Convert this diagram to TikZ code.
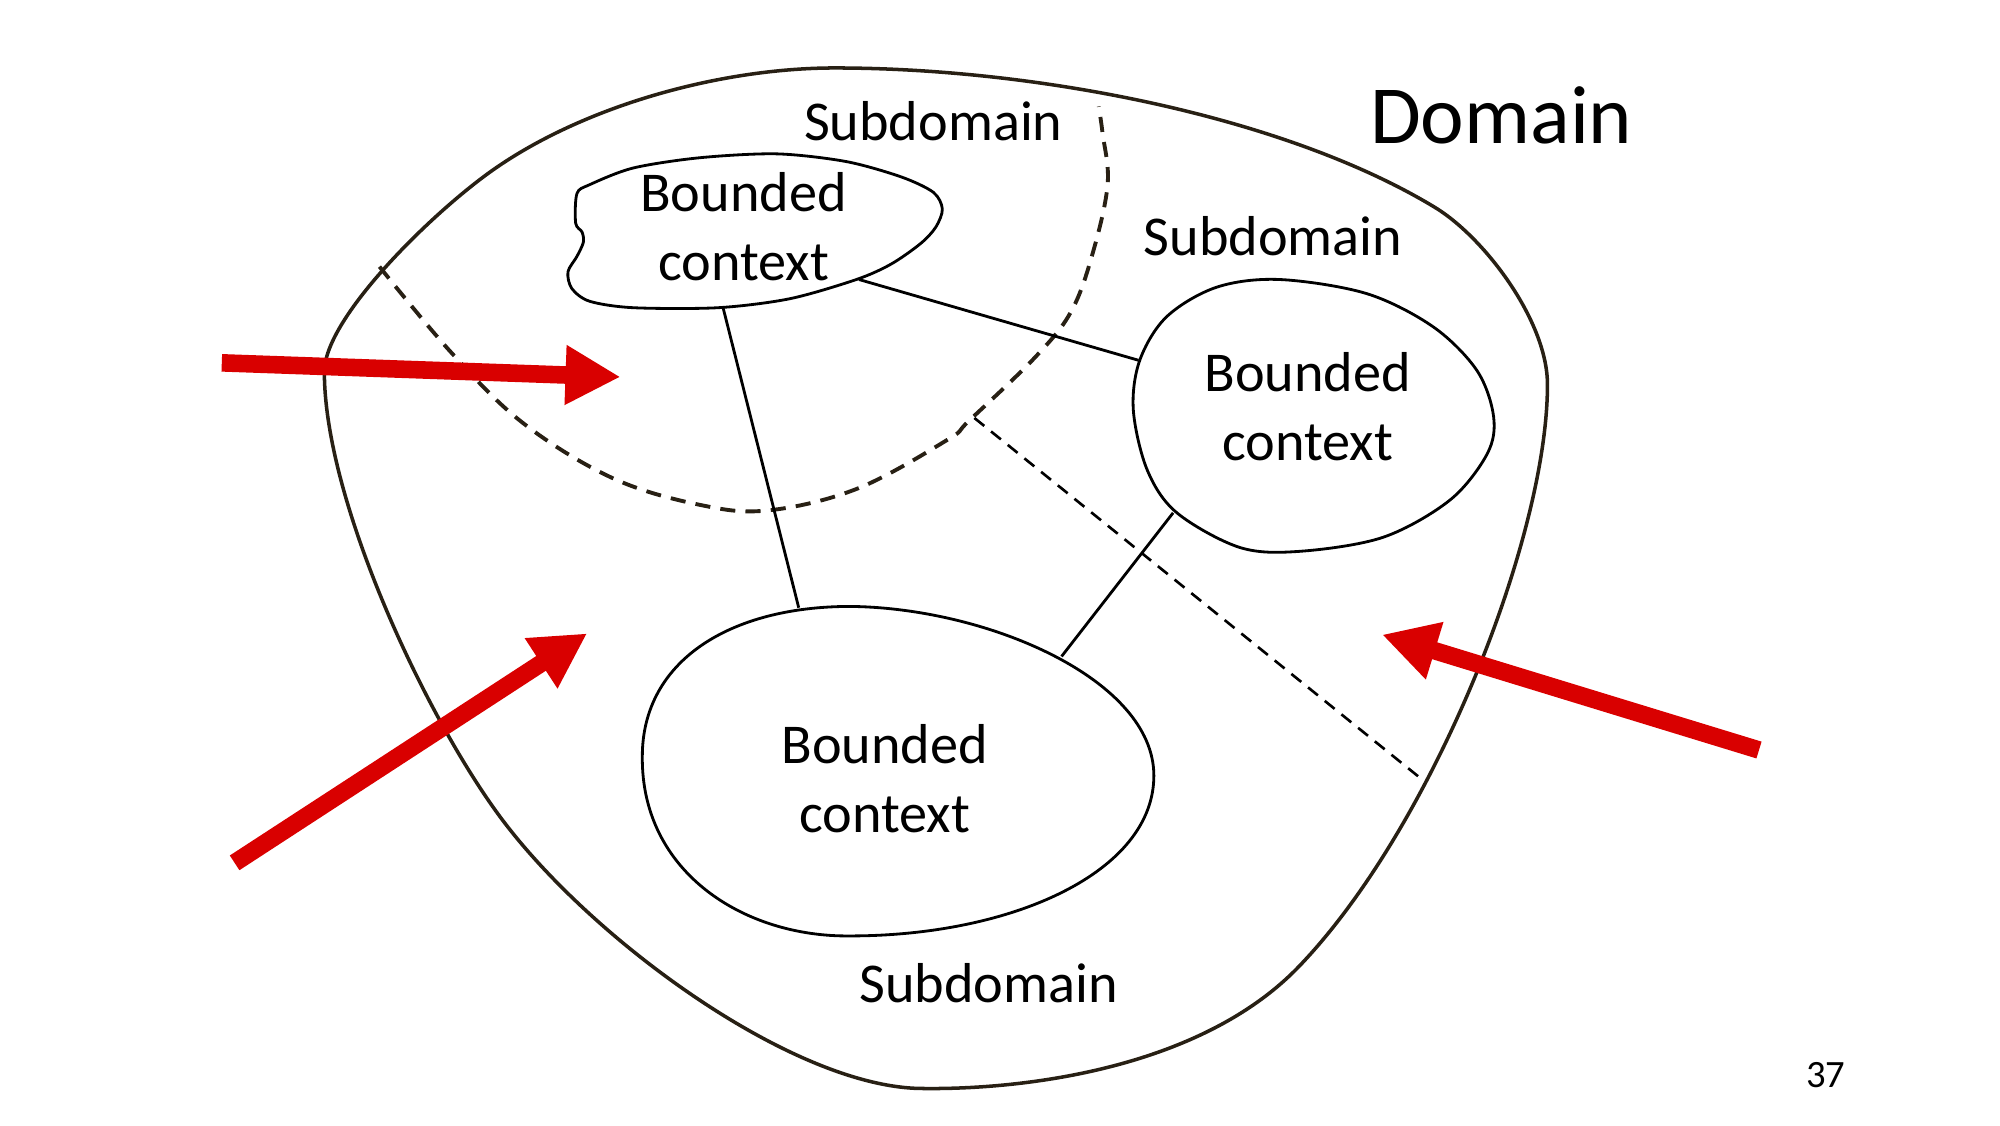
\documentclass[tikz,border=0pt]{standalone}
\usepackage{fontspec}
\setmainfont{Carlito}
\usetikzlibrary{arrows.meta}
\definecolor{edgebrown}{RGB}{40,32,20}
\definecolor{signalred}{RGB}{217,0,0}

\begin{document}
\begin{tikzpicture}[x=0.012821cm,y=-0.012821cm,
      every node/.style={font=\fontsize{16}{19.6}\selectfont,inner sep=0pt},
      context/.style={align=center},
      outline/.style={draw=edgebrown,line width=1pt},
      blob/.style={draw=black,line width=0.8pt},
      border/.style={draw=edgebrown,line width=1.1pt,dash pattern=on 4.3pt off 2.9pt},
      thinborder/.style={draw=black,line width=0.75pt,dash pattern=on 3.6pt off 2.5pt},
      link/.style={draw=black,line width=0.8pt},
      pointer/.style={draw=signalred,line width=5pt,-{Triangle[length=0.55cm,width=0.56cm]}}]

      \useasboundingbox (0,0) rectangle (1560,877.5);

      % domain
      \draw[outline] (651,53) .. controls (806,53) and (1000,90) .. (1118,161)
        .. controls (1157,184) and (1207,250) .. (1207,300)
        .. controls (1207,420) and (1117,646) .. (1013,754)
        .. controls (937,833) and (800,850) .. (720,849)
        .. controls (620,849) and (461,733) .. (390,637)
        .. controls (331,557) and (253,390) .. (253,290)
        .. controls (253,250) and (329,174) .. (377,138)
        .. controls (449,84) and (560,53) .. cycle;

      % subdomain borders
      \draw[border] plot[smooth,tension=0.6] coordinates {(296,208) (352,275) (408,330) (478,373)
        (547,394) (600,398) (669,381) (739,343) (756,328) (808,278) (836,242) (853,195) (864,143)
        (860,104) (857,83)};
      \coordinate (cut_a) at (760,326);
      \coordinate (cut_b) at (1108,607);
      \draw[thinborder] (cut_a) -- (cut_b);

      % bounded contexts
      \draw[blob] plot[smooth cycle,tension=0.5] coordinates {(546,123) (606,120) (660,126) (703,138)
        (728,150) (735,163) (730,177) (718,190) (695,206) (668,218) (616,233) (560,240) (494,240)
        (460,235) (446,225) (443,212) (450,200) (455,189) (454,181) (449,174) (450,151) (460,144)
        (494,131)};
      \draw[blob] plot[smooth cycle,tension=0.55] coordinates {(998,218) (1066,229) (1118,255)
        (1152,289) (1165,325) (1160,354) (1131,390) (1079,419) (1014,430) (967,427) (918,400)
        (895,367) (884,320) (889,281) (910,247) (949,224)};
      \draw[blob] (663,473) .. controls (770,474) and (900,530) .. (900,605)
        .. controls (900,680) and (790,730) .. (663,730)
        .. controls (580,731) and (500,680) .. (501,590)
        .. controls (501,515) and (570,473) .. cycle;

      \node[context] (bc_1) at (580,177) {Bounded\\context};
      \node[context] (bc_2) at (1020,317) {Bounded\\context};
      \node[context] (bc_3) at (690,607) {Bounded\\context};

      \coordinate (bc_1s) at (564,240);
      \coordinate (bc_1e) at (670,218);
      \coordinate (bc_2w) at (888,281);
      \coordinate (bc_2s) at (915,400);
      \coordinate (bc_3n) at (623,474);
      \coordinate (bc_3ne) at (828,512);
      \path[link] (bc_1s) edge (bc_3n)
                  (bc_1e) edge (bc_2w)
                  (bc_2s) edge (bc_3ne);

      % labels
      \node[anchor=base] (sub_top)    at (728,109.5) {Subdomain};
      \node[anchor=base] (sub_right)  at (993,199)   {Subdomain};
      \node[anchor=base] (sub_bottom) at (771,782)   {Subdomain};
      \node[anchor=base,font=\fontsize{23.5}{28}\selectfont] (domain) at (1171,112) {Domain};
      \node[anchor=base,font=\fontsize{11}{13}\selectfont] (page)   at (1424,848) {37};

      % arrows
      \coordinate (in_1) at (173,283);  \coordinate (to_1) at (484,294);
      \coordinate (in_2) at (183,673);  \coordinate (to_2) at (458,494);
      \coordinate (in_3) at (1372,585); \coordinate (to_3) at (1078,495);
      \foreach \i in {1,2,3}
        \draw[pointer] (in_\i) -- (to_\i);
    \end{tikzpicture}
\end{document}
